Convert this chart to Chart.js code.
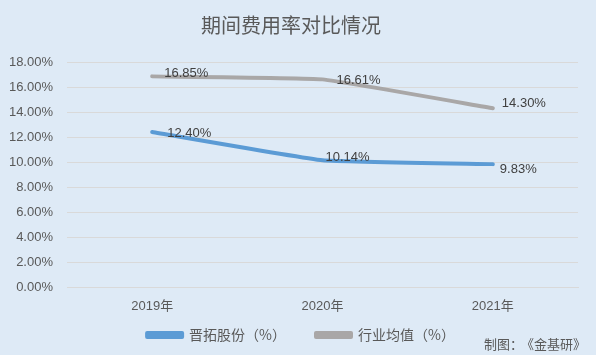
<!DOCTYPE html>
<html><head><meta charset="utf-8">
<script src="https://cdn.jsdelivr.net/npm/chart.js@4"></script>
<style>html,body{margin:0;padding:0;background:#DEEAF6;}#wrap{width:596px;height:355px;}</style>
</head><body><div id="wrap"><canvas id="c" width="596" height="355"></canvas></div>
<script>
const categories = ['2019年', '2020年', '2021年'];
const seriesNames = ['晋拓股份（%）', '行业均值（%）'];
const jintuo = [12.40, 10.14, 9.83];
const industry = [16.85, 16.61, 14.30];
const yTicks = [0, 2, 4, 6, 8, 10, 12, 14, 16, 18];
const titleText = '期间费用率对比情况';
const footerLeft = '制图：';
const footerRight = '《金基研》';

const FONT = "'Liberation Sans', 'Noto Sans CJK SC', sans-serif";
const CJK = "'Noto Sans CJK SC', sans-serif";
const TXT = '#595959';

const labelOffsets = [
  [[15, 1], [3, -3], [7, 5]],
  [[12, -3], [14, 1], [9, -5]]
];

const bgPlugin = {
  id: 'bg',
  beforeDraw(chart) {
    const ctx = chart.ctx;
    ctx.save();
    ctx.fillStyle = '#DEEAF6';
    ctx.fillRect(0, 0, chart.width, chart.height);
    ctx.restore();
  },
  afterLayout(chart) {
    // let x tick labels extend below the compact axis box without clipping
    chart.scales.x.bottom = chart.scales.x.top + 30;
    // nudge legend row to the right to match reference centring
    chart.legend.left += 10;
    chart.legend.right += 10;
  },
  afterDraw(chart) {
    const ctx = chart.ctx;
    ctx.save();
    ctx.font = "13px " + FONT;
    ctx.fillStyle = '#404040';
    ctx.textBaseline = 'middle';
    ctx.textAlign = 'left';
    chart.data.datasets.forEach((ds, di) => {
      const meta = chart.getDatasetMeta(di);
      meta.data.forEach((pt, i) => {
        const off = labelOffsets[di][i];
        ctx.fillText(ds.data[i].toFixed(2) + '%', pt.x + off[0], pt.y + off[1]);
      });
    });
    ctx.font = "13px " + CJK;
    ctx.fillStyle = TXT;
    ctx.textAlign = 'right';
    const wr = ctx.measureText(footerRight).width;
    ctx.fillText(footerRight, 586, 344);
    ctx.fillText(footerLeft, 586 - wr + 2, 344);
    ctx.restore();
  }
};

new Chart(document.getElementById('c'), {
  type: 'line',
  data: {
    labels: categories,
    datasets: [
      { label: seriesNames[0], data: jintuo, borderColor: '#5B9BD5', backgroundColor: '#5B9BD5', borderWidth: 4, pointRadius: 0, tension: 0.1, borderCapStyle: 'round', borderJoinStyle: 'round' },
      { label: seriesNames[1], data: industry, borderColor: '#A9A7A7', backgroundColor: '#A9A7A7', borderWidth: 4, pointRadius: 0, tension: 0.1, borderCapStyle: 'round', borderJoinStyle: 'round' }
    ]
  },
  options: {
    responsive: false,
    animation: false,
    devicePixelRatio: 1,
    layout: { padding: { left: 4, right: 18, top: 0, bottom: 3 } },
    plugins: {
      title: { display: true, text: titleText, color: TXT, font: { size: 20, family: CJK, weight: 'normal' }, padding: { top: 13, bottom: 25 } },
      legend: {
        position: 'bottom',
        labels: { color: TXT, font: { size: 14, family: CJK }, boxWidth: 35, boxHeight: 4, padding: 30 }
      },
      tooltip: { enabled: false }
    },
    scales: {
      x: {
        offset: true,
        grid: { display: false },
        border: { display: true, color: '#D9D9D9' },
        ticks: { color: TXT, font: { size: 13, family: FONT }, padding: 4 },
        afterFit(axis) { axis.height = 11; }
      },
      y: {
        min: 0, max: 18,
        afterBuildTicks(axis) { axis.ticks = yTicks.map(v => ({ value: v })); },
        afterFit(axis) { axis.width = 63; },
        grid: { color: '#D9D9D9', drawTicks: false },
        border: { display: false },
        ticks: { color: TXT, font: { size: 13, family: FONT }, padding: 14, callback: v => v.toFixed(2) + '%' }
      }
    }
  },
  plugins: [bgPlugin]
});
</script>
</body></html>
